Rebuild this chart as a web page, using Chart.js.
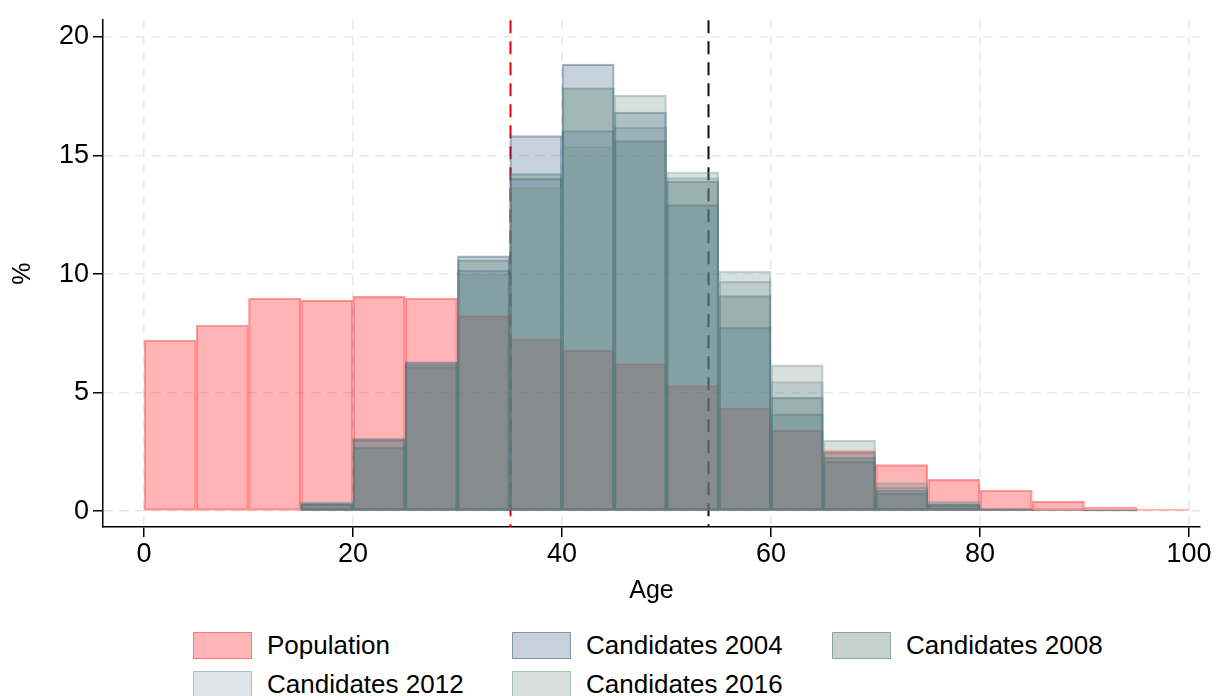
<!DOCTYPE html>
<html>
<head>
    <meta charset="UTF-8">
    <script src="https://cdn.jsdelivr.net/npm/chart.js@4.4.1/dist/chart.umd.min.js"></script>
    <style>
        body { margin: 0; background: #fff; font-family: "Liberation Sans", Arial, sans-serif; }
        .wrap { position: relative; width: 1219px; height: 696px; overflow: hidden; }
        .chart-box { position: absolute; left: 0; top: 0; width: 1219px; height: 612px; }
        .legend { position: absolute; left: 0; top: 631px; width: 1219px; }
        .item { position: absolute; display: flex; align-items: center; height: 28px; font-size: 26px; color: #000; white-space: nowrap; }
        .swatch { width: 57px; height: 25px; margin-right: 15px; box-sizing: content-box; }
    </style>
    <title>Age distribution</title>
</head>
<body>
<div class="wrap">
    <div class="chart-box"><canvas id="histChart"></canvas></div>
    <div class="legend" id="legend"></div>
</div>
<script>
    // bins of 5 years, values in %
    const binCenters = [2.5, 7.5, 12.5, 17.5, 22.5, 27.5, 32.5, 37.5, 42.5, 47.5, 52.5, 57.5, 62.5, 67.5, 72.5, 77.5, 82.5, 87.5, 92.5, 97.5];
    const population = [7.22, 7.85, 8.98, 8.9, 9.06, 8.98, 8.25, 7.27, 6.8, 6.22, 5.3, 4.35, 3.42, 2.55, 1.96, 1.34, 0.88, 0.42, 0.17, 0.08];
    const cand2004 = [null, null, null, 0.3, 3.06, 6.3, 10.77, 15.84, 18.86, 16.83, 12.93, 7.75, 4.1, 2.1, 0.77, 0.25, 0.08, 0.03, 0.01, null];
    const cand2008 = [null, null, null, 0.35, 3.0, 6.2, 10.6, 14.24, 17.86, 15.63, 13.92, 9.09, 4.8, 2.27, 0.88, 0.32, 0.08, 0.03, 0.01, null];
    const cand2012 = [null, null, null, 0.3, 2.7, 6.1, 10.16, 14.04, 16.05, 16.2, 14.07, 9.69, 5.47, 2.48, 1.02, 0.3, 0.1, 0.04, 0.02, null];
    const cand2016 = [null, null, null, 0.39, 2.65, 6.05, 10.0, 13.65, 15.38, 17.55, 14.31, 10.12, 6.17, 2.99, 1.2, 0.42, 0.11, 0.05, 0.02, null];
    const xTicks = [0, 20, 40, 60, 80, 100];
    const yTicks = [0, 5, 10, 15, 20];
    const refLines = [{ x: 35, color: '#e8000b' }, { x: 54, color: '#111' }];

    const series = [
        { label: 'Population', data: population, fill: 'rgba(255,0,0,0.29)', border: 'rgba(255,40,40,0.45)' },
        { label: 'Candidates 2004', data: cand2004, fill: 'rgba(26,71,111,0.25)', border: 'rgba(26,71,111,0.4)' },
        { label: 'Candidates 2008', data: cand2008, fill: 'rgba(110,142,132,0.4)', border: 'rgba(90,130,122,0.55)' },
        { label: 'Candidates 2012', data: cand2012, fill: 'rgba(26,71,111,0.15)', border: 'rgba(26,71,111,0.25)' },
        { label: 'Candidates 2016', data: cand2016, fill: 'rgba(110,142,132,0.28)', border: 'rgba(110,142,132,0.4)' }
    ];

    const tickFont = { family: '"Liberation Sans", Arial, sans-serif', size: 27 };
    const titleFont = { family: '"Liberation Sans", Arial, sans-serif', size: 25 };

    const refLinePlugin = {
        id: 'refLines',
        beforeDatasetsDraw(chart) {
            const ctx = chart.ctx;
            const area = chart.chartArea;
            const xs = chart.scales.x;
            ctx.save();
            ctx.lineWidth = 2;
            ctx.setLineDash([13, 8]);
            refLines.forEach(function (l) {
                const px = Math.round(xs.getPixelForValue(l.x)) + 0.5;
                ctx.strokeStyle = l.color;
                ctx.beginPath();
                ctx.moveTo(px, area.top);
                ctx.lineTo(px, area.bottom);
                ctx.stroke();
            });
            ctx.restore();
        }
    };

    const datasets = series.map(function (s, i) {
        return {
            label: s.label,
            data: binCenters.map((c, j) => ({ x: c, y: s.data[j] })),
            backgroundColor: s.fill,
            borderColor: s.border,
            borderWidth: 1.5,
            borderSkipped: false,
            grouped: false,
            barPercentage: 1,
            categoryPercentage: 1,
            order: series.length - i
        };
    });

    new Chart(document.getElementById('histChart'), {
        type: 'bar',
        data: { datasets: datasets },
        options: {
            responsive: true,
            maintainAspectRatio: false,
            animation: false,
            layout: { padding: { top: 15, right: 19, left: 0, bottom: 0 } },
            plugins: {
                legend: { display: false },
                tooltip: { enabled: false }
            },
            scales: {
                x: {
                    type: 'linear',
                    offset: false,
                    min: -3.92,
                    max: 101.05,
                    afterBuildTicks: s => { s.ticks = xTicks.map(v => ({ value: v })); },
                    afterFit: s => { s.height = 85; },
                    grid: { offset: false, color: '#e8e8e8', lineWidth: 1.5, tickColor: '#000', tickLength: 10, tickWidth: 1.5 },
                    border: { display: true, color: '#000', width: 1.5, dash: [9, 7] },
                    ticks: { color: '#000', font: tickFont, padding: 1, maxRotation: 0 },
                    title: { display: true, text: 'Age', color: '#000', font: titleFont, padding: { top: 4, bottom: 6 } }
                },
                y: {
                    min: -0.67,
                    max: 20.71,
                    afterBuildTicks: s => { s.ticks = yTicks.map(v => ({ value: v })); },
                    afterFit: s => { s.width = 103; },
                    grid: { color: '#e8e8e8', lineWidth: 1.5, tickColor: '#000', tickLength: 10, tickWidth: 1.5 },
                    border: { display: true, color: '#000', width: 1.5, dash: [9, 7] },
                    ticks: { color: '#000', font: tickFont, padding: 4 },
                    title: { display: true, text: '%', color: '#000', font: titleFont, padding: { top: 8, bottom: 4 } }
                }
            }
        },
        plugins: [refLinePlugin]
    });

    // legend laid out as a 3-column grid like the original
    const legendPos = [[193, 0], [512, 0], [832, 0], [193, 39], [512, 39]];
    const legendEl = document.getElementById('legend');
    series.forEach(function (s, i) {
        const item = document.createElement('div');
        item.className = 'item';
        item.style.left = legendPos[i][0] + 'px';
        item.style.top = legendPos[i][1] + 'px';
        const sw = document.createElement('span');
        sw.className = 'swatch';
        sw.style.background = s.fill;
        sw.style.border = '1.5px solid ' + s.border;
        item.appendChild(sw);
        item.appendChild(document.createTextNode(s.label));
        legendEl.appendChild(item);
    });
</script>
</body>
</html>
